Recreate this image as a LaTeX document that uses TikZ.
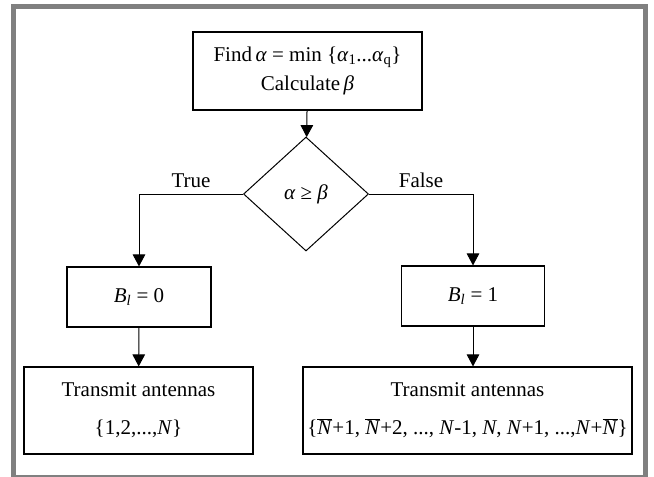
\documentclass[tikz,border=0pt]{standalone}
\usepackage{fontspec}
\setmainfont{Liberation Serif}
\usetikzlibrary{shapes.geometric,arrows.meta}
\definecolor{framegray}{RGB}{128,128,128}
\newcommand{\sym}[1]{\textit{#1}}
\newcommand{\nbar}{$\overline{\mbox{\textit{N}}}$}
\tikzset{
  flowbox/.style={draw, line width=1.1pt, inner sep=0pt, align=center},
  flowtest/.style={draw, diamond, line width=1pt, inner sep=0pt, minimum width=125pt, minimum height=114pt},
  flowline/.style={line width=1pt, ->}
}
\begin{document}
\begin{tikzpicture}[x=1pt, y=-1pt, >={Triangle[length=12pt,width=12.5pt]}, font=\fontsize{21}{29}\selectfont]
    \useasboundingbox (0,0) rectangle (654,477);
    \draw[framegray, line width=5pt] (13.5,477) -- (13.5,6.5) -- (645.5,6.5) -- (645.5,477);
    \draw[framegray, line width=1.2pt] (16,476) -- (643,476);

    \node[flowbox, minimum width=229pt, minimum height=78pt] (calc) at (307.5,71)
      {Find\,\sym{α} = min \{\sym{α}\textsubscript{1}...\sym{α}\textsubscript{q}\}\\Calculate\,\sym{β}};
    \node[flowtest] (test) at (306,194) {\sym{α} ≥ \sym{β}};

    \node[flowbox, minimum width=144pt, minimum height=60pt] (zero) at (139,297) {\sym{B}\textsubscript{\sym{l}} = 0};
    \node[flowbox, minimum width=143pt, minimum height=60pt] (one) at (473,296) {\sym{B}\textsubscript{\sym{l}} = 1};

    \node[flowbox, minimum width=229pt, minimum height=87pt] (setN) at (138.5,410.5)
      {Transmit antennas\\[9pt]\{1,2,...,\sym{N}\}};
    \node[flowbox, minimum width=329pt, minimum height=87pt] (setR) at (467.5,410.5)
      {Transmit antennas\\[9pt]\{\nbar+1, \nbar+2, ..., \sym{N}-1, \sym{N}, \sym{N}+1, ...,\sym{N}+\nbar\}};

    \draw[flowline] (calc) -- (test);
    \draw[flowline] (test.west) -| node[pos=0.25, above=2pt] {True} (zero.north);
    \draw[flowline] (test.east) -| node[pos=0.25, above=2pt] {False} (one.north);
    \draw[flowline] (zero) -- (setN);
    \draw[flowline] (one) -- (one |- setR.north);
  \end{tikzpicture}
\end{document}
